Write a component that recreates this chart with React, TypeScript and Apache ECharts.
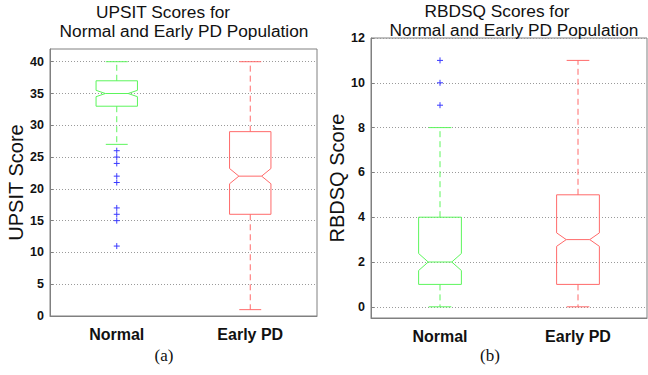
import React, { useEffect, useRef } from "react";
import * as echarts from "echarts";

const categories = ["Normal", "Early PD"];

// UPSIT (left panel)
const upsitMin = [27, 1];
const upsitQ1 = [33, 16];
const upsitNotchLow = [34.5, 20.8];
const upsitMedian = [35, 22];
const upsitNotchHigh = [35.5, 23.2];
const upsitQ3 = [37, 29];
const upsitMax = [40, 40];
const upsitOutliersNormal = [26, 25, 24, 22, 21, 17, 16, 15, 11];
const upsitTicks = [0, 5, 10, 15, 20, 25, 30, 35, 40];

// RBDSQ (right panel)
const rbdsqMin = [0, 0];
const rbdsqQ1 = [1, 1];
const rbdsqNotchLow = [1.62, 2.7];
const rbdsqMedian = [2, 3];
const rbdsqNotchHigh = [2.38, 3.3];
const rbdsqQ3 = [4, 5];
const rbdsqMax = [8, 11];
const rbdsqOutliersNormal = [9, 10, 11];
const rbdsqTicks = [0, 2, 4, 6, 8, 10, 12];

const BOX_COLORS = ["#5cf55c", "#ff6a6a"];
const OUTLIER_COLOR = "#3a3aff";
const AXIS_GRAY = "#808080";
const FONT = "Arial, 'Liberation Sans', Helvetica, sans-serif";

function boxRows(mins, q1s, nlo, meds, nhi, q3s, maxs) {
  return categories.map((_, i) => [i, mins[i], q1s[i], nlo[i], meds[i], nhi[i], q3s[i], maxs[i]]);
}

function renderBox(params, api) {
  const idx = api.value(0);
  const color = BOX_COLORS[idx];
  const c = (v) => api.coord([idx, v]);
  const cx = c(api.value(4))[0];
  const band = api.size([1, 0])[0];
  const hw = band * 0.155;
  const iw = hw * 0.55;
  const cap = hw * 0.53;
  const yMin = c(api.value(1))[1];
  const yQ1 = c(api.value(2))[1];
  const yNlo = c(api.value(3))[1];
  const yMed = c(api.value(4))[1];
  const yNhi = c(api.value(5))[1];
  const yQ3 = c(api.value(6))[1];
  const yMax = c(api.value(7))[1];
  const solid = { stroke: color, lineWidth: 1, fill: null };
  const dashed = { stroke: color, lineWidth: 1, lineDash: [6, 4], fill: null };
  return {
    type: "group",
    children: [
      {
        type: "polygon",
        shape: {
          points: [
            [cx - hw, yQ3],
            [cx + hw, yQ3],
            [cx + hw, yNhi],
            [cx + iw, yMed],
            [cx + hw, yNlo],
            [cx + hw, yQ1],
            [cx - hw, yQ1],
            [cx - hw, yNlo],
            [cx - iw, yMed],
            [cx - hw, yNhi],
          ],
        },
        style: { stroke: color, lineWidth: 1, fill: "transparent" },
      },
      { type: "line", shape: { x1: cx - iw, y1: yMed, x2: cx + iw, y2: yMed }, style: solid },
      { type: "line", shape: { x1: cx, y1: yQ3, x2: cx, y2: yMax }, style: dashed },
      { type: "line", shape: { x1: cx, y1: yQ1, x2: cx, y2: yMin }, style: dashed },
      { type: "line", shape: { x1: cx - cap, y1: yMax, x2: cx + cap, y2: yMax }, style: solid },
      { type: "line", shape: { x1: cx - cap, y1: yMin, x2: cx + cap, y2: yMin }, style: solid },
    ],
  };
}

function renderPlus(params, api) {
  const p = api.coord([api.value(0), api.value(1)]);
  const h = 3;
  const st = { stroke: OUTLIER_COLOR, lineWidth: 1 };
  return {
    type: "group",
    children: [
      { type: "line", shape: { x1: p[0] - h, y1: p[1], x2: p[0] + h, y2: p[1] }, style: st },
      { type: "line", shape: { x1: p[0], y1: p[1] - h, x2: p[0], y2: p[1] + h }, style: st },
    ],
  };
}

function xAxisFor(gridIndex) {
  return {
    type: "category",
    gridIndex,
    data: categories,
    boundaryGap: true,
    axisLine: { show: true, onZero: false, lineStyle: { color: AXIS_GRAY, width: 1 } },
    axisTick: { show: false },
    axisLabel: { fontFamily: FONT, fontWeight: "bold", fontSize: 16, color: "#111", margin: 10 },
    splitLine: { show: false },
  };
}

function yAxisFor(gridIndex, min, max, ticks, name, gap) {
  return {
    type: "value",
    gridIndex,
    min,
    max,
    name,
    nameLocation: "middle",
    nameGap: gap,
    nameTextStyle: { fontFamily: FONT, fontSize: 20, color: "#111" },
    axisLine: { show: true, onZero: false, lineStyle: { color: AXIS_GRAY, width: 1 } },
    axisTick: { show: true, inside: true, length: 3, customValues: ticks, lineStyle: { color: AXIS_GRAY } },
    axisLabel: { customValues: ticks, fontFamily: FONT, fontWeight: "bold", fontSize: 12.5, color: "#111", margin: 6 },
    splitLine: { show: true, lineStyle: { color: "#9a9a9a", type: [1, 2], width: 1 } },
  };
}

export default function App() {
  const ref = useRef(null);
  useEffect(() => {
    const chart = echarts.init(ref.current, null, { renderer: "svg" });
    const titleStyle = { fontFamily: FONT, fontSize: 17.3, fill: "#111" };
    chart.setOption({
      animation: false,
      backgroundColor: "#fff",
      grid: [
        { left: 50, right: 331, top: 49, bottom: 59, show: true, borderColor: AXIS_GRAY, borderWidth: 1, backgroundColor: "transparent" },
        { left: 371, right: 1, top: 38, bottom: 57, show: true, borderColor: AXIS_GRAY, borderWidth: 1, backgroundColor: "transparent" },
      ],
      xAxis: [xAxisFor(0), xAxisFor(1)],
      yAxis: [
        yAxisFor(0, 0, 42, upsitTicks, "UPSIT Score", 22),
        yAxisFor(1, -0.5, 12, rbdsqTicks, "RBDSQ Score", 22),
      ],
      series: [
        {
          type: "custom",
          xAxisIndex: 0,
          yAxisIndex: 0,
          renderItem: renderBox,
          encode: { x: 0, y: [1, 7] },
          data: boxRows(upsitMin, upsitQ1, upsitNotchLow, upsitMedian, upsitNotchHigh, upsitQ3, upsitMax),
          z: 3,
        },
        {
          type: "custom",
          xAxisIndex: 0,
          yAxisIndex: 0,
          renderItem: renderPlus,
          encode: { x: 0, y: 1 },
          data: upsitOutliersNormal.map((v) => [0, v]),
          z: 4,
        },
        {
          type: "custom",
          xAxisIndex: 1,
          yAxisIndex: 1,
          renderItem: renderBox,
          encode: { x: 0, y: [1, 7] },
          data: boxRows(rbdsqMin, rbdsqQ1, rbdsqNotchLow, rbdsqMedian, rbdsqNotchHigh, rbdsqQ3, rbdsqMax),
          z: 3,
        },
        {
          type: "custom",
          xAxisIndex: 1,
          yAxisIndex: 1,
          renderItem: renderPlus,
          encode: { x: 0, y: 1 },
          data: rbdsqOutliersNormal.map((v) => [0, v]),
          z: 4,
        },
      ],
      graphic: [
        { type: "text", x: 163, y: 12, style: { ...titleStyle, text: "UPSIT Scores for", textAlign: "center", textVerticalAlign: "middle" } },
        { type: "text", x: 184, y: 31, style: { ...titleStyle, text: "Normal and Early PD Population", textAlign: "center", textVerticalAlign: "middle" } },
        { type: "text", x: 497, y: 10.5, style: { ...titleStyle, text: "RBDSQ Scores for", textAlign: "center", textVerticalAlign: "middle" } },
        { type: "text", x: 514, y: 29.5, style: { ...titleStyle, text: "Normal and Early PD Population", textAlign: "center", textVerticalAlign: "middle" } },
        { type: "text", x: 164, y: 355, style: { text: "(a)", fontFamily: "'Liberation Serif', 'Times New Roman', serif", fontSize: 17, fill: "#111", textAlign: "center", textVerticalAlign: "middle" } },
        { type: "text", x: 490, y: 355, style: { text: "(b)", fontFamily: "'Liberation Serif', 'Times New Roman', serif", fontSize: 17, fill: "#111", textAlign: "center", textVerticalAlign: "middle" } },
      ],
    });
    return () => chart.dispose();
  }, []);
  return <div ref={ref} style={{ width: 648, height: 375, position: "absolute", left: 0, top: 0 }} />;
}
